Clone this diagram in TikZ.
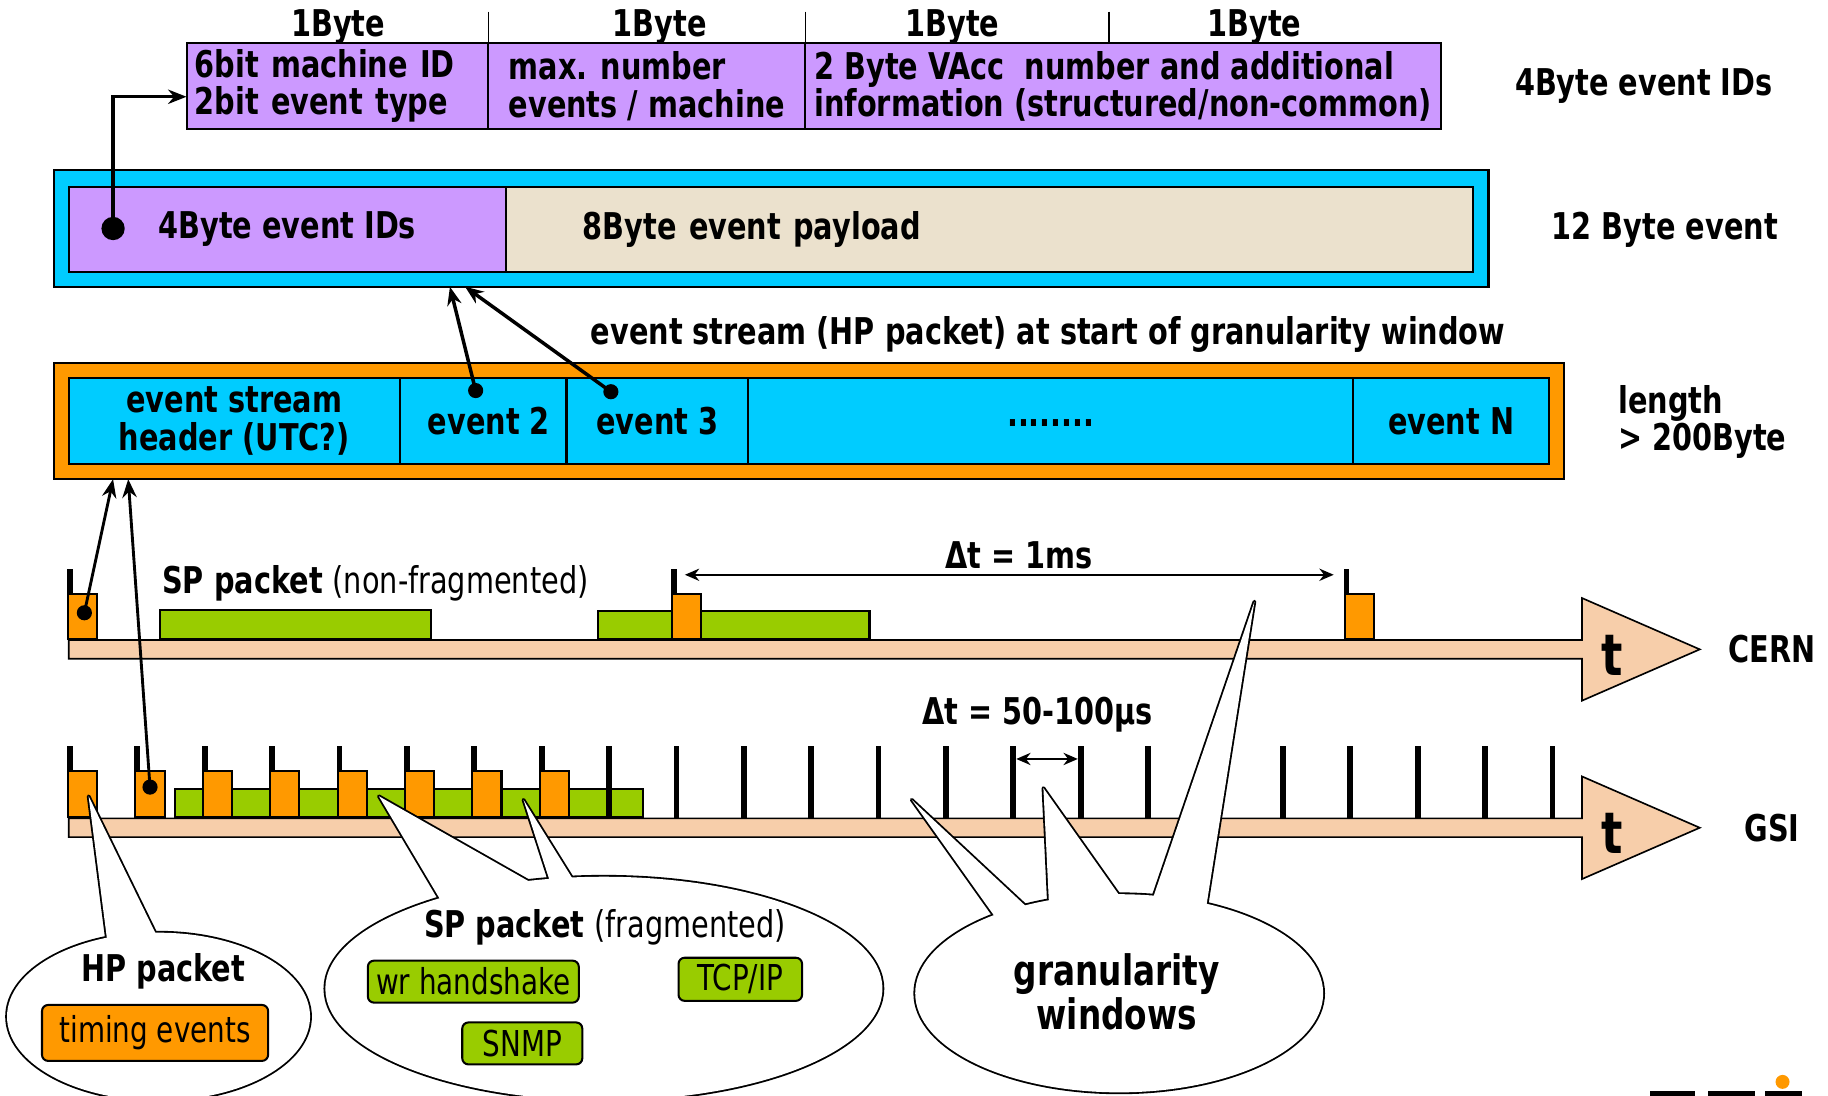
\documentclass[tikz,border=0pt]{standalone}
\usepackage{fontspec}
\setmainfont{DejaVu Sans}[FakeStretch=0.78]
\usetikzlibrary{arrows.meta, positioning}
\definecolor{idViolet}{RGB}{204,153,255}
\definecolor{frameCyan}{RGB}{0,204,255}
\definecolor{payloadBeige}{RGB}{235,225,205}
\definecolor{hpOrange}{RGB}{255,153,0}
\definecolor{spGreen}{RGB}{153,204,0}
\definecolor{axisPeach}{RGB}{247,206,170}

% speech bubbles (ellipse + tails), drawn twice: outline, then fill
\newcommand\bubbles[1]{%
  \path[#1] (136,872) ellipse [x radius=2.6cm, y radius=1.44cm];
  \path[#1] (93,815) -- (76,683) -- (139,812) -- cycle;
  \path[#1] (518,848) ellipse [x radius=4.78cm, y radius=1.92cm];
  \path[#1] (382,779) -- (325,683) -- (466,763) -- cycle;
  \path[#1] (473,760) -- (449,686) -- (495,760) -- cycle;
  \path[#1] (960,852) ellipse [x radius=3.5cm, y radius=1.7cm];
  \path[#1] (856,790) -- (782,686) -- (885,782) -- cycle;
  \path[#1] (900,780) -- (895,676) -- (965,775) -- cycle;
  \path[#1] (987,776) -- (1076,516) -- (1034,782) -- cycle;
}

\begin{document}
\begin{tikzpicture}[x=0.02cm, y=-0.02cm, >={Stealth[length=9pt,width=7pt]},
  every node/.style={font=\fontsize{18}{18.2}\selectfont\bfseries},
  cell/.style={draw, line width=1pt, inner sep=0pt, outer sep=0pt, anchor=north west, minimum height=1.48cm},
  idcell/.style={cell, fill=idViolet, align=left},
  outerbox/.style={draw, line width=1pt, inner sep=0pt, outer sep=0pt, anchor=north west, minimum height=2cm},
  axis/.style={draw, line width=0.8pt, fill=axisPeach},
  tick/.style={fill=black, inner sep=0pt, outer sep=0pt, minimum width=0.1cm, anchor=south},
  hpbox/.style={draw, fill=hpOrange, line width=1pt, inner sep=0pt, minimum width=0.5cm, minimum height=0.78cm, anchor=south west},
  spbox/.style={draw, fill=spGreen, line width=1pt, inner sep=0pt, minimum height=0.5cm, anchor=south west},
  dot/.style={circle, fill=black, inner sep=0pt, minimum size=0.26cm},
  link/.style={->, line width=1.7pt},
  span/.style={<->, line width=0.9pt, >={Stealth[length=7pt,width=6pt]}},
  tag/.style={draw, rounded corners=3pt, line width=1pt, inner sep=0pt, font=\fontsize{17.4}{18}\selectfont}]
\useasboundingbox (0,0) rectangle (1568,940);

% 4 Byte event ID
\foreach \x [count=\i] in {290, 566, 817, 1076} \node (byte\i) at (\x,23) {1Byte};
\foreach \x in {419, 691, 951} \draw[line width=0.8pt] (\x,10) -- (\x,37);
\node[idcell, minimum width=5.18cm, text width=4.9cm, inner xsep=0.14cm] (idA) at (160,37) {6bit machine ID\\2bit event type};
\node[idcell, right=0pt of idA, minimum width=5.44cm] (idB) {max. number\\events / machine};
\node[idcell, right=0pt of idB, minimum width=10.9cm] (idC) {2 Byte VAcc\ \ number and additional\\information (structured/non-common)};
\node (idLabel) at (1410,74) {4Byte event IDs};

% 12 Byte event
\node[outerbox, fill=frameCyan, minimum width=24.62cm] (evFrame) at (46,146) {};
\node[cell, fill=idViolet, minimum width=7.5cm, minimum height=1.46cm] (evID) at (59,160) {4Byte event IDs};
\node[cell, fill=payloadBeige, right=0pt of evID, minimum width=16.6cm, minimum height=1.46cm, text width=13.96cm, inner xsep=1.32cm] (evPay) {8Byte event payload};
\node (evLabel) at (1428,197) {12 Byte event};
\node[dot, minimum size=0.4cm] (dA) at (97,196) {};
\draw[link] (dA.center) |- ([yshift=-0.18cm]idA.west);

% event stream
\node (streamTitle) at (899,287) {event stream (HP packet) at start of granularity window};
\node[outerbox, fill=hpOrange, minimum width=25.92cm] (stFrame) at (46,311) {};
\node[cell, fill=frameCyan, minimum width=5.68cm, align=center] (stHdr) at (59,324) {event stream\\header (UTC?)};
\node[cell, fill=frameCyan, right=0pt of stHdr, minimum width=2.86cm] (st2) {\hspace{0.2cm}event 2};
\node[cell, fill=frameCyan, right=0pt of st2, minimum width=3.12cm] (st3) {event 3};
\node[cell, fill=frameCyan, right=0pt of st3, minimum width=10.38cm] (stDots) {\raisebox{-0.2cm}{........}};
\node[cell, fill=frameCyan, right=0pt of stDots, minimum width=3.36cm] (stN) {event N};
\node[align=left, anchor=west] (stLabel) at (1382,362) {length\\> 200Byte};
\node[dot] (d2) at (408,335) {};
\node[dot] (d3) at (524,336) {};
\draw[link] (d2.center) -- ([xshift=6.8cm]evFrame.south west);
\draw[link] (d3.center) -- ([xshift=7.06cm]evFrame.south west);

% time axes
\foreach \y/\site in {557/CERN, 710/GSI}{
  \draw[axis] (59,\y-8) -- (1357,\y-8) -- (1357,\y-44) -- (1458,\y) -- (1357,\y+44) -- (1357,\y+8) -- (59,\y+8) -- cycle;
  \node[font=\fontsize{28}{28}\selectfont\bfseries] (t\site) at (1383,\y+5) {t};
  \node (\site) at (1520,\y) {\site};
}

% CERN
\node[spbox, minimum width=4.66cm] (spA) at (136,549) {};
\node[spbox, minimum width=4.66cm, minimum height=0.48cm] (spB) at (512,549) {};
\foreach \x [count=\i from 0] in {60, 578, 1155} \node[tick, minimum height=1.22cm] (c\i) at (\x,549) {};
\foreach \i in {0,1,2} \node[hpbox] (hc\i) at (c\i.south west) {};
\node[anchor=west] (spLabel) at (133,500) {SP packet \mdseries(non-fragmented)};
\node (dtCern) at (874,476) {Δt = 1ms};
\draw[span, shorten <=0.14cm, shorten >=0.17cm] ([yshift=-0.1cm]c1.north east) -- ([yshift=-0.1cm]c2.north west);

% GSI
\node[spbox, minimum width=8.04cm, minimum height=0.48cm] (spC) at (149,702) {};
\foreach \k in {0,...,22} \node[tick, minimum height=1.24cm] (g\k) at ({60+57.8*\k},702) {};
\foreach \k in {0,...,7} \node[hpbox, minimum height=0.8cm] (hg\k) at (g\k.south west) {};
\node (dtGsi) at (890,613) {Δt = 50-100µs};
\draw[span] ([yshift=-0.22cm]g14.north east) -- ([yshift=-0.22cm]g15.north west);

\node[dot] (dC) at ([xshift=0.03cm, yshift=0.06cm]hc0.center) {};
\node[dot] (dG) at ([yshift=0.12cm]hg1.center) {};
\draw[link, line width=1.4pt] (dC.center) -- ([xshift=1.02cm]stFrame.south west);
\draw[link, line width=1.4pt] (dG.center) -- ([xshift=1.28cm]stFrame.south west);

% callouts
\bubbles{draw=black, line width=1.8pt, line join=round, fill=white}
\bubbles{fill=white}
\node (hpTitle) at (140,833) {HP packet};
\node[tag, fill=hpOrange, minimum width=3.88cm, minimum height=0.96cm] (hpTag) at (133,886) {timing events};
\node (spTitle) at (519,795) {SP packet \mdseries(fragmented)};
\node[tag, fill=spGreen, minimum width=3.62cm, minimum height=0.72cm] (tagWr) at (406,842) {wr handshake};
\node[tag, fill=spGreen, minimum width=2.12cm, minimum height=0.74cm] (tagTcp) at (635,840) {TCP/IP};
\node[tag, fill=spGreen, minimum width=2.06cm, minimum height=0.72cm] (tagSnmp) at (448,895) {SNMP};
\node[align=center, font=\fontsize{20.5}{21.6}\selectfont\bfseries] (granLabel) at (958,851) {granularity\\windows};

% logo corner
\fill[hpOrange] (1529,928) circle [radius=0.12cm];
\foreach \a/\b in {1415/1454, 1465/1505, 1514/1546} \fill (\a,936) rectangle (\b,941);
\end{tikzpicture}
\end{document}
